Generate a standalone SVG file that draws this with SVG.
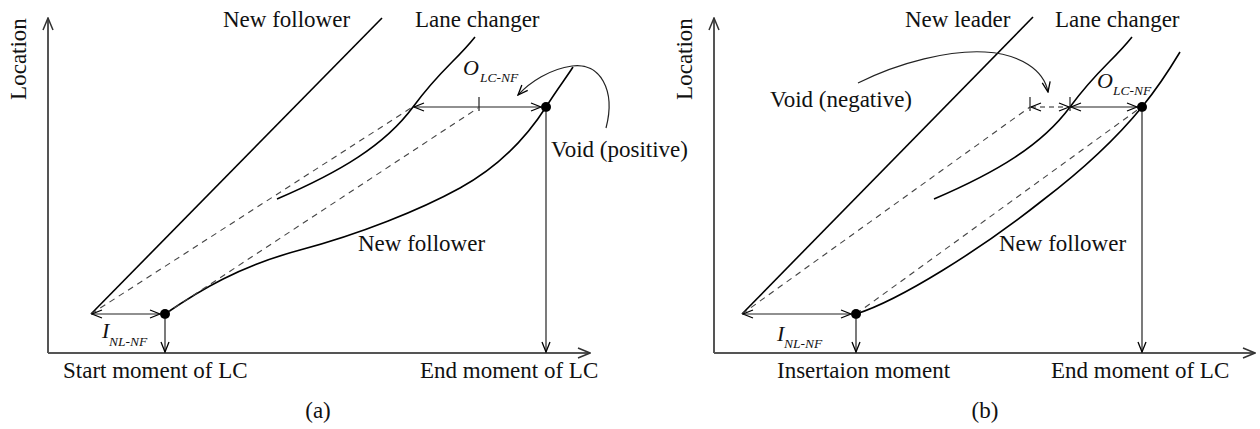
<svg xmlns="http://www.w3.org/2000/svg" width="1260" height="429" viewBox="0 0 1260 429">
<defs>
<marker id="arr" viewBox="0 0 12 10" refX="11" refY="5" markerWidth="12" markerHeight="10" markerUnits="userSpaceOnUse" orient="auto-start-reverse">
<path d="M1,1 L11,5 L1,9" fill="none" stroke="#000" stroke-width="1.3"/>
</marker>
<marker id="axarr" viewBox="0 0 14 12" refX="13" refY="6" markerWidth="14" markerHeight="12" markerUnits="userSpaceOnUse" orient="auto">
<path d="M1,1 L13,6 L1,11" fill="none" stroke="#333" stroke-width="1.5"/>
</marker>
</defs>
<style>
.ax{stroke:#555;stroke-width:2;fill:none}
.ln{stroke:#000;stroke-width:1.6;fill:none}
.ds{stroke:#444;stroke-width:1.1;stroke-dasharray:6 5;fill:none}
.ar{stroke:#222;stroke-width:1.2;fill:none}
.tk{stroke:#222;stroke-width:1.2}
.dot{fill:#000}
text{font-family:"Liberation Serif","Times New Roman",serif;fill:#111;font-size:23px}
.it{font-style:italic;font-size:22px}
.sub{font-style:italic;font-size:13.5px}
</style>

<g id="panel-a">
<g id="axes-a">
<line class="ax" x1="48" y1="353" x2="48" y2="18" marker-end="url(#axarr)"/>
<line class="ax" x1="48" y1="353" x2="590" y2="353" marker-end="url(#axarr)"/>
<text transform="translate(26,59) rotate(-90)" text-anchor="middle">Location</text>
</g>
<g id="a-new-follower-line">
<path class="ln" d="M91,314 L382,18"/>
<text x="223" y="27">New follower</text>
</g>
<g id="a-lane-changer">
<path class="ln" d="M277,199 C340,172 385,145 413,107 S455,62 475,37"/>
<text x="415" y="27">Lane changer</text>
</g>
<g id="a-new-follower-curve">
<path class="ln" d="M165,314 C200,290 240,266 300,250 C360,234 420,210 460,188 C500,166 528,135 546,107 C558,88 566,78 573,67"/>
<text x="358" y="251">New follower</text>
</g>
<g id="a-dashed">
<path class="ds" d="M91,314 L411,108"/>
<path class="ds" d="M165,314 L478,108"/>
</g>
<g id="a-connectors">
<line class="ar" x1="414" y1="107" x2="541" y2="107" marker-start="url(#arr)" marker-end="url(#arr)"/>
<line class="tk" x1="479" y1="97" x2="479" y2="111"/>
<line class="ar" x1="546" y1="112" x2="546" y2="352" marker-end="url(#arr)"/>
<line class="ar" x1="92" y1="314" x2="160" y2="314" marker-start="url(#arr)" marker-end="url(#arr)"/>
<line class="ar" x1="165" y1="319" x2="165" y2="352" marker-end="url(#arr)"/>
<path class="ar" d="M606,128 C616,90 600,62 572,66 C550,69 530,82 518,95" marker-end="url(#arr)"/>
</g>
<g id="a-dots">
<circle class="dot" cx="546" cy="107" r="5"/>
<circle class="dot" cx="165" cy="314" r="5"/>
</g>
<g id="a-labels">
<text x="551" y="157">Void (positive)</text>
<text class="it" x="463" y="75">O</text>
<text class="sub" x="480" y="82">LC-NF</text>
<text class="it" x="102" y="338">I</text>
<text class="sub" x="109" y="346">NL-NF</text>
<text x="63" y="378">Start moment of LC</text>
<text x="420" y="378">End moment of LC</text>
<text x="318" y="418" text-anchor="middle">(a)</text>
</g>
</g>

<g id="panel-b">
<g id="axes-b">
<line class="ax" x1="714" y1="353" x2="714" y2="18" marker-end="url(#axarr)"/>
<line class="ax" x1="714" y1="353" x2="1255" y2="353" marker-end="url(#axarr)"/>
<text transform="translate(692,59) rotate(-90)" text-anchor="middle">Location</text>
</g>
<g id="b-new-leader">
<path class="ln" d="M742,314 L1033,17"/>
<text x="905" y="27">New leader</text>
</g>
<g id="b-lane-changer">
<path class="ln" d="M934,199 C997,172 1042,145 1070,107 S1112,62 1132,37"/>
<text x="1055" y="27">Lane changer</text>
</g>
<g id="b-new-follower">
<path class="ln" d="M856,314 C900,300 980,250 1043,200 C1085,168 1115,140 1142,107 C1155,91 1168,72 1180,52"/>
<text x="999" y="251">New follower</text>
</g>
<g id="b-dashed">
<path class="ds" d="M742,314 L1030,107"/>
<path class="ds" d="M856,314 L1140,108"/>
</g>
<g id="b-connectors">
<line class="ar" x1="1031" y1="107" x2="1069" y2="107" stroke-dasharray="5 4" marker-start="url(#arr)" marker-end="url(#arr)"/>
<line class="tk" x1="1030" y1="97" x2="1030" y2="111"/>
<line class="tk" x1="1070" y1="97" x2="1070" y2="111"/>
<line class="ar" x1="1071" y1="107" x2="1137" y2="107" marker-start="url(#arr)" marker-end="url(#arr)"/>
<line class="ar" x1="1142" y1="112" x2="1142" y2="352" marker-end="url(#arr)"/>
<line class="ar" x1="743" y1="314" x2="851" y2="314" marker-start="url(#arr)" marker-end="url(#arr)"/>
<line class="ar" x1="856" y1="319" x2="856" y2="352" marker-end="url(#arr)"/>
<path class="ar" d="M858,83 C900,62 950,50 985,52 C1020,54 1044,70 1048,92" marker-end="url(#arr)"/>
</g>
<g id="b-dots">
<circle class="dot" cx="1142" cy="107" r="5"/>
<circle class="dot" cx="856" cy="314" r="5"/>
</g>
<g id="b-labels">
<text x="770" y="107">Void (negative)</text>
<text class="it" x="1097" y="88">O</text>
<text class="sub" x="1113" y="95">LC-NF</text>
<text class="it" x="777" y="341">I</text>
<text class="sub" x="784" y="348">NL-NF</text>
<text x="777" y="378">Insertaion moment</text>
<text x="1051" y="378">End moment of LC</text>
<text x="985" y="418" text-anchor="middle">(b)</text>
</g>
</g>
</svg>
